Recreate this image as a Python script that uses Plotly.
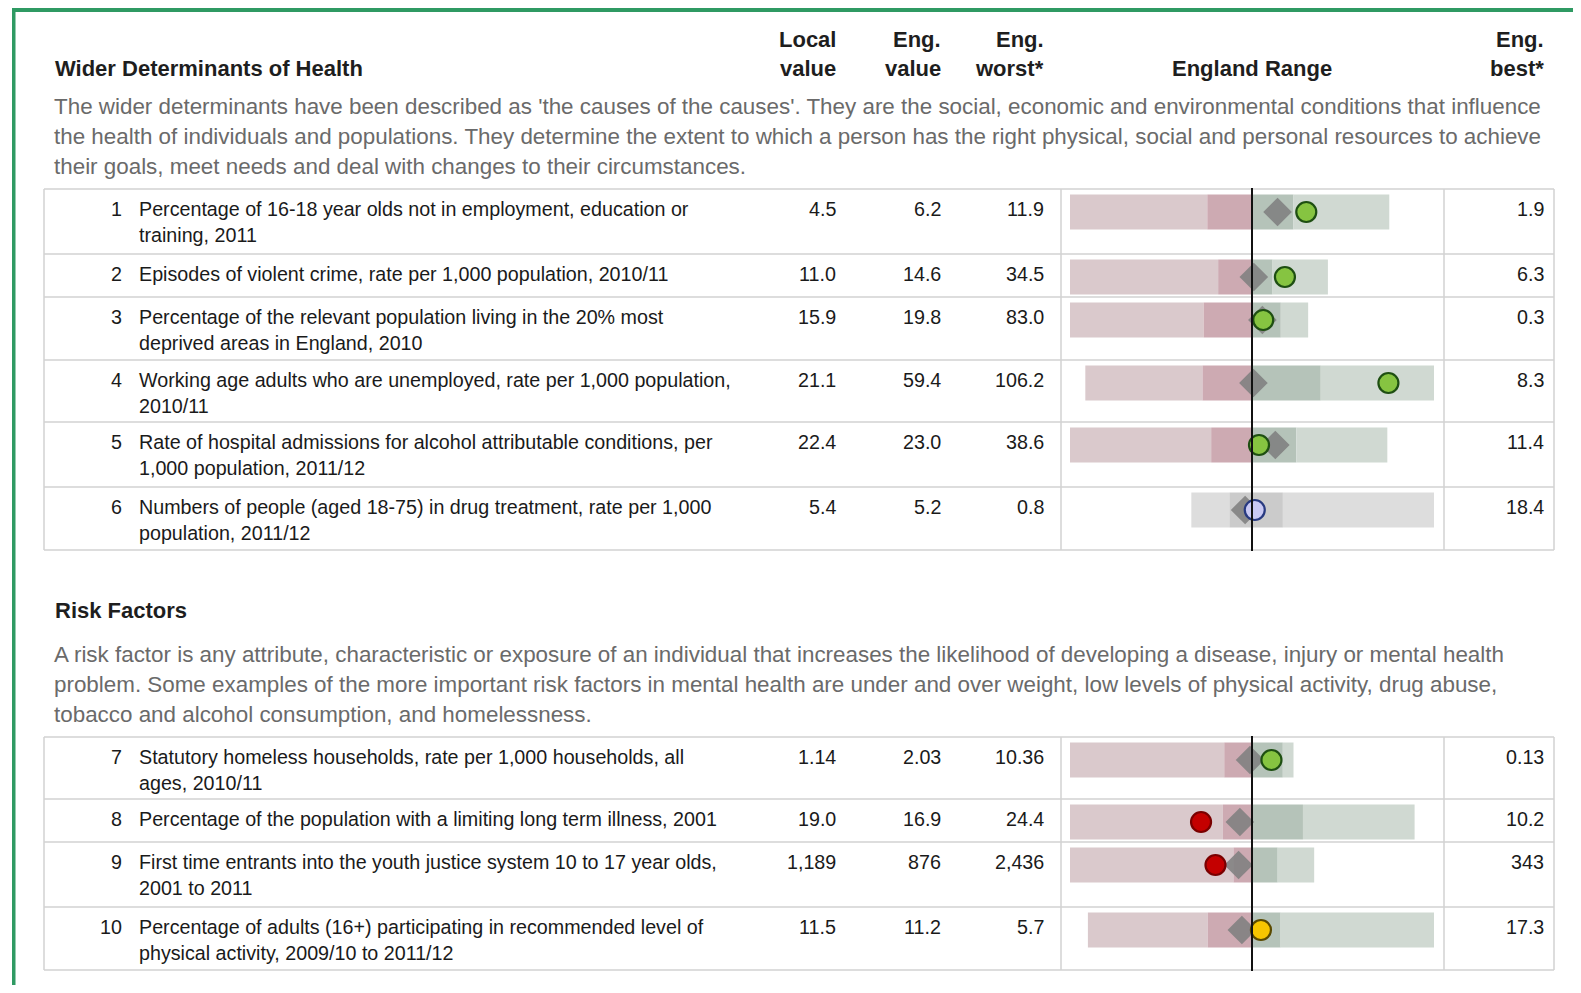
import plotly.graph_objects as go

# ---------------- data ----------------
row_ids = [1, 2, 3, 4, 5, 6, 7, 8, 9, 10]
indicators = [
    "Percentage of 16-18 year olds not in employment, education or<br>training, 2011",
    "Episodes of violent crime, rate per 1,000 population, 2010/11",
    "Percentage of the relevant population living in the 20% most<br>deprived areas in England, 2010",
    "Working age adults who are unemployed, rate per 1,000 population,<br>2010/11",
    "Rate of hospital admissions for alcohol attributable conditions, per<br>1,000 population, 2011/12",
    "Numbers of people (aged 18-75) in drug treatment, rate per 1,000<br>population, 2011/12",
    "Statutory homeless households, rate per 1,000 households, all<br>ages, 2010/11",
    "Percentage of the population with a limiting long term illness, 2001",
    "First time entrants into the youth justice system 10 to 17 year olds,<br>2001 to 2011",
    "Percentage of adults (16+) participating in recommended level of<br>physical activity, 2009/10 to 2011/12",
]
decimals = [1, 1, 1, 1, 1, 1, 2, 1, 0, 1]
local_value = [4.5, 11.0, 15.9, 21.1, 22.4, 5.4, 1.14, 19.0, 1189, 11.5]
eng_value = [6.2, 14.6, 19.8, 59.4, 23.0, 5.2, 2.03, 16.9, 876, 11.2]
eng_worst = [11.9, 34.5, 83.0, 106.2, 38.6, 0.8, 10.36, 24.4, 2436, 5.7]
eng_best = [1.9, 6.3, 0.3, 8.3, 11.4, 18.4, 0.13, 10.2, 343, 17.3]
quartile_worse = [7.6, 18.3, 36.6, 73.3, 26.5, 3.56, 3.3, 18.1, 1035, 9.72]
quartile_better = [4.9, 12.35, 9.8, 40.1, 19.2, 7.44, 0.62, 14.8, 656, 12.16]
regional_value = [5.4, 14.4, 16.2, 59.0, 21.0, 4.7, 2.12, 17.4, 991, 10.86]
significance = ["better", "better", "better", "better", "better", "none",
                "better", "worse", "worse", "similar"]

section_titles = ["Wider Determinants of Health", "Risk Factors"]
section_text = [
    ["The wider determinants have been described as 'the causes of the causes'. They are the social, economic and environmental conditions that influence",
     "the health of individuals and populations. They determine the extent to which a person has the right physical, social and personal resources to achieve",
     "their goals, meet needs and deal with changes to their circumstances."],
    ["A risk factor is any attribute, characteristic or exposure of an individual that increases the likelihood of developing a disease, injury or mental health",
     "problem. Some examples of the more important risk factors in mental health are under and over weight, low levels of physical activity, drug abuse,",
     "tobacco and alcohol consumption, and homelessness."],
]

# ---------------- layout constants (page pixels) ----------------
OFF = 8                     # browser body margin
FW, FH = 1581 - 2 * OFF, 993 - 2 * OFF
table_lines = [[189, 254, 297, 360, 422, 487, 550], [737, 799, 842, 907, 970]]
row_tops = table_lines[0][:-1] + table_lines[1][:-1]
TABLE_L, TABLE_R = 44, 1554
RANGE_L, RANGE_R = 1061, 1444
SPINE_C, SPINE_HALF = 1252, 182
col_right = {"local": 837, "eng": 942, "worst": 1045, "best": 1545}

def px(x):
    return (x - OFF) / FW

GRID = "#d2d2d2"
TXT = "#1a1a1a"
DESC = "#6a6a6a"
HEAD = "#1e1e1e"
FONT = "Liberation Sans, Arial, sans-serif"

band_cols = {"normal": ["#dac9cc", "#cdaab2", "#b5c3b9", "#d0d9d2"],
             "grey": ["#dddddd", "#cbcbcb", "#cbcbcb", "#dddddd"]}
circle_fill = {"better": "#86c441", "worse": "#c40000", "similar": "#f7c600", "none": "#c9c9f3"}
circle_line = {"better": "#1e4f12", "worse": "#7a0000", "similar": "#5a4a00", "none": "#283a80"}


def fmt(v, d):
    return f"{v:,.{d}f}"


# spine transform: England value at 0, furthest extreme at +-1, worst on the left
def spine(i, v):
    e = eng_value[i]
    s = max(abs(eng_worst[i] - e), abs(eng_best[i] - e))
    sign = 1 if eng_best[i] > e else -1
    return (v - e) * sign / s


n = len(row_ids)
ycent = [row_tops[i] + 23 for i in range(n)]

fig = go.Figure()

# bands
segments = [(eng_worst, quartile_worse), (quartile_worse, eng_value),
            (eng_value, quartile_better), (quartile_better, eng_best)]
for k, (a, b) in enumerate(segments):
    bases, lens, cols = [], [], []
    for i in range(n):
        u0, u1 = spine(i, a[i]), spine(i, b[i])
        bases.append(min(u0, u1))
        lens.append(abs(u1 - u0))
        cols.append(band_cols["grey" if significance[i] == "none" else "normal"][k])
    fig.add_trace(go.Bar(orientation="h", y=ycent, x=lens, base=bases, width=35,
                         marker=dict(color=cols, line=dict(width=0)),
                         showlegend=False, hoverinfo="skip"))

# regional diamonds
fig.add_trace(go.Scatter(
    x=[spine(i, regional_value[i]) for i in range(n)], y=ycent, mode="markers",
    marker=dict(symbol="diamond", size=22, color="rgba(128,128,128,0.88)", line=dict(width=0)),
    showlegend=False, hoverinfo="skip"))

# local value circles
fig.add_trace(go.Scatter(
    x=[spine(i, local_value[i]) for i in range(n)], y=ycent, mode="markers",
    marker=dict(symbol="circle", size=20,
                color=[circle_fill[s] for s in significance],
                line=dict(width=2.2, color=[circle_line[s] for s in significance])),
    showlegend=False, hoverinfo="skip"))

shapes = []
annotations = []

# green frame
shapes.append(dict(type="rect", xref="paper", yref="y", x0=px(12), x1=1.0, y0=8, y1=12,
                   fillcolor="#2f9a63", line=dict(width=0), layer="above"))
shapes.append(dict(type="rect", xref="paper", yref="y", x0=px(12), x1=px(15.5), y0=8, y1=985,
                   fillcolor="#2f9a63", line=dict(width=0), layer="above"))

# tables
for t, lines in enumerate(table_lines):
    for yl in lines:
        shapes.append(dict(type="line", xref="paper", yref="y", x0=px(TABLE_L), x1=px(TABLE_R),
                           y0=yl, y1=yl, line=dict(color=GRID, width=1.5), layer="below"))
    for xl in (TABLE_L, RANGE_L, RANGE_R, TABLE_R):
        shapes.append(dict(type="line", xref="paper", yref="y", x0=px(xl), x1=px(xl),
                           y0=lines[0], y1=lines[-1], line=dict(color=GRID, width=1.5), layer="below"))
    # England average line
    shapes.append(dict(type="line", xref="x", yref="y", x0=0, x1=0,
                       y0=lines[0] - 1, y1=lines[-1] + 1, line=dict(color="#111111", width=2),
                       layer="above"))


def ann(x, y, text, size, color, xanchor="left", bold=False):
    if bold:
        text = f"<b>{text}</b>"
    annotations.append(dict(xref="paper", yref="y", x=px(x), y=y, text=text, showarrow=False,
                            xanchor=xanchor, yanchor="middle",
                            font=dict(family=FONT, size=size, color=color)))


# headers
HS = 22
ann(53, 68, section_titles[0], HS, HEAD, bold=True)
for x, l1, l2, anc in [(col_right["local"], "Local", "value", "right"),
                       (col_right["eng"], "Eng.", "value", "right"),
                       (col_right["worst"], "Eng.", "worst*", "right"),
                       (col_right["best"], "Eng.", "best*", "right")]:
    ann(x + 1, 39, l1, HS, HEAD, xanchor=anc, bold=True)
    ann(x + 1, 68, l2, HS, HEAD, xanchor=anc, bold=True)
ann(SPINE_C, 68, "England Range", HS, HEAD, xanchor="center", bold=True)
ann(53, 610, section_titles[1], HS, HEAD, bold=True)

DS = 22.4
for j, line in enumerate(section_text[0]):
    ann(52, 106 + 30.2 * j, line, DS, DESC)
for j, line in enumerate(section_text[1]):
    ann(52, 654.5 + 30.2 * j, line, DS, DESC)

# rows
RS = 19.7
for i in range(n):
    top = row_tops[i]
    y1 = top + 19.5
    ann(124, y1, str(row_ids[i]), RS, TXT, xanchor="right")
    for j, part in enumerate(indicators[i].split("<br>")):
        ann(137, y1 + 26.5 * j, part, RS, TXT)
    d = decimals[i]
    ann(col_right["local"] + 1, y1, fmt(local_value[i], d), RS, TXT, xanchor="right")
    ann(col_right["eng"] + 1, y1, fmt(eng_value[i], d), RS, TXT, xanchor="right")
    ann(col_right["worst"] + 1, y1, fmt(eng_worst[i], d), RS, TXT, xanchor="right")
    ann(col_right["best"] + 1, y1, fmt(eng_best[i], d), RS, TXT, xanchor="right")

fig.update_layout(
    width=FW, height=FH, margin=dict(l=0, r=0, t=0, b=0),
    paper_bgcolor="white", plot_bgcolor="white",
    barmode="overlay", showlegend=False,
    xaxis=dict(domain=[px(SPINE_C - SPINE_HALF), px(SPINE_C + SPINE_HALF)], range=[-1, 1],
               visible=False, fixedrange=True),
    yaxis=dict(domain=[0, 1], range=[993 - OFF, OFF], visible=False, fixedrange=True),
    shapes=shapes, annotations=annotations,
)

fig.write_html("out.html")
